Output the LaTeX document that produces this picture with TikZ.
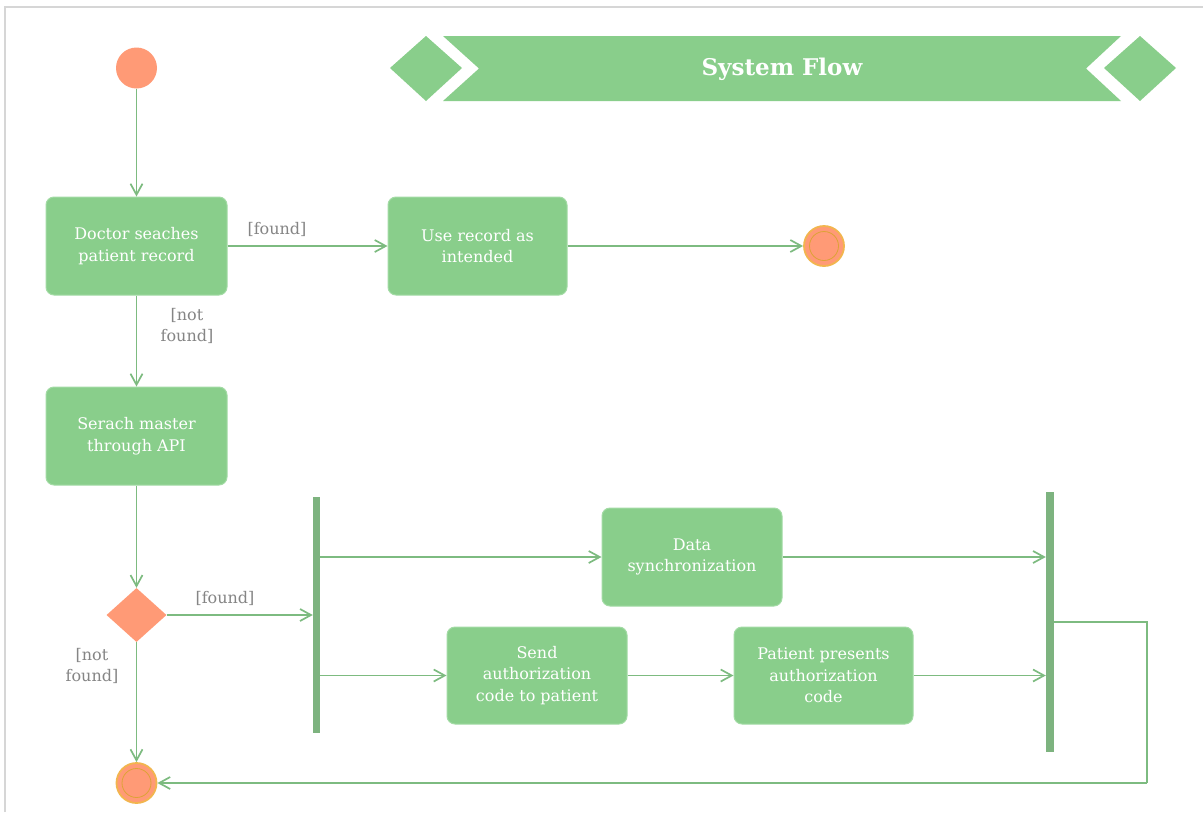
\documentclass[tikz,border=0pt]{standalone}
\usepackage{fontspec}
\setmainfont{DejaVu Serif}
\usetikzlibrary{arrows.meta,shapes.geometric}
\definecolor{boxg}{HTML}{89CE8B}
\definecolor{boxedge}{HTML}{A3DBA5}
\definecolor{lineg}{HTML}{7DBB80}
\definecolor{barg}{HTML}{7DB37F}
\definecolor{orng}{HTML}{FF9A76}
\definecolor{ringc}{HTML}{F2B54E}
\definecolor{innerc}{HTML}{DDA236}
\definecolor{labg}{HTML}{858585}
\definecolor{framec}{HTML}{D6D6D6}
\tikzset{
  actbox/.style={rectangle, rounded corners=8pt, fill=boxg, draw=boxedge, line width=1pt,
    minimum width=181pt, minimum height=98pt, align=center, text=white,
    font=\fontsize{16}{21.5}\selectfont, inner sep=2pt},
  startnode/.style={circle, fill=orng, minimum size=41pt, inner sep=0pt},
  endnode/.style={circle, fill=orng, draw=ringc, line width=1.8pt, minimum size=40pt, inner sep=0pt},
  innerring/.style={draw=innerc, line width=0.8pt},
  decis/.style={diamond, fill=orng, minimum width=60pt, minimum height=54pt, inner sep=0pt},
  bar/.style={rectangle, fill=barg, inner sep=0pt},
  arr/.style={draw=lineg, line width=1.7pt, -{Straight Barb[length=11pt,width=12pt,line width=1.7pt]}},
  plain/.style={draw=lineg, line width=1.7pt},
  lab/.style={text=labg, align=center, font=\fontsize{16}{21.5}\selectfont, inner sep=0pt},
  banner/.style={fill=boxg, draw=none}
}
\begin{document}
\begin{tikzpicture}[x=1pt,y=-1pt]
\useasboundingbox (0,0) rectangle (1203,812);
\fill[white] (0,0) rectangle (1203,812);
% frame
\draw[framec, line width=2pt] (5,812) -- (5,7) -- (1203,7);
% banner
\fill[banner] (390,68) -- (426,36) -- (462,68) -- (426,101) -- cycle;
\fill[banner] (443,36) -- (1121,36) -- (1086,68.5) -- (1121,101) -- (443,101) -- (479,68.5) -- cycle;
\fill[banner] (1104,68) -- (1140,36) -- (1176,68) -- (1140,101) -- cycle;
\node[text=white, font=\fontsize{23}{26}\selectfont\bfseries] (title) at (782,69) {System Flow};
% nodes
\node[startnode] (start) at (136.5,68) {};
\node[actbox] (b1) at (136.5,246) {Doctor seaches\\patient record};
\node[actbox, minimum width=179pt] (b2) at (477.5,246) {Use record as\\intended};
\node[endnode] (end1) at (824,246) {};
\draw[innerring] (end1.center) circle (14.5);
\node[actbox] (b3) at (136.5,436) {Serach master\\through API};
\node[decis] (dia) at (136.5,615) {};
\node[bar, minimum width=7pt, minimum height=236pt] (fork) at (316.5,615) {};
\node[actbox, minimum width=180pt] (b4) at (692,557) {Data\\synchronization};
\node[actbox, minimum width=180pt, minimum height=97pt] (b5) at (537,675.5) {Send\\authorization\\code to patient};
\node[actbox, minimum width=179pt, minimum height=97pt] (b6) at (823.5,675.5) {Patient presents\\authorization\\code};
\node[bar, minimum width=8pt, minimum height=260pt] (join) at (1050,622) {};
\node[endnode] (end2) at (136.5,783) {};
\draw[innerring] (end2.center) circle (14.5);
\coordinate (c1) at (1147,783);
% connectors
\draw[arr] (start) -- (b1);
\draw[arr] (b1) -- (b2);
\draw[arr] (b2) -- (end1);
\draw[arr] (b1) -- (b3);
\draw[arr] (b3) -- (dia);
\draw[arr] (dia.east) -- (dia.east -| fork.west);
\draw[arr] (fork.east |- b4.west) -- (b4.west);
\draw[arr] (fork.east |- b5.west) -- (b5.west);
\draw[arr] (b4.east) -- (b4.east -| join.west);
\draw[arr] (b5) -- (b6);
\draw[arr] (b6.east) -- (b6.east -| join.west);
\draw[arr] (dia) -- (end2);
\draw[plain] (join.east) -| (c1);
\draw[arr] (c1) -- (end2);
% labels
\node[lab] (l1) at (277,229) {[found]};
\node[lab] (l2) at (187,326) {[not\\found]};
\node[lab] (l3) at (225,598) {[found]};
\node[lab] (l4) at (92,666) {[not\\found]};
\end{tikzpicture}
\end{document}
